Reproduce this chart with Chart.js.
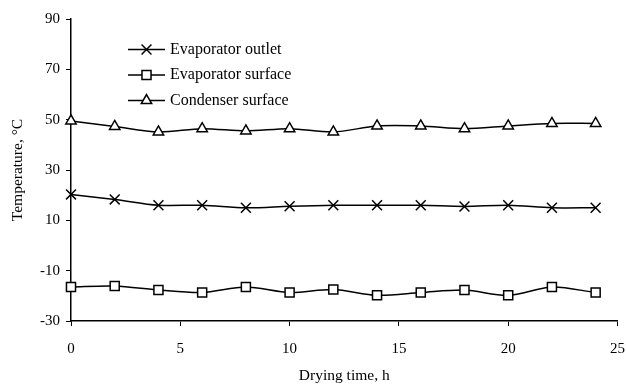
<!DOCTYPE html>
<html lang="en">
<head>
<meta charset="UTF-8">
<title>Drying temperatures</title>
<script src="https://cdn.jsdelivr.net/npm/chart.js"></script>
<style>
  html, body { margin: 0; padding: 0; background: #fff; }
  #wrap { width: 626px; height: 389px; }
</style>
</head>
<body>
<div id="wrap"><canvas id="temps"></canvas></div>
<script>
// readings taken every 2 hours
const hours = [0, 2, 4, 6, 8, 10, 12, 14, 16, 18, 20, 22, 24];
const evapOutlet = [20.3, 18.3, 16, 16, 15, 15.6, 16, 16, 16, 15.5, 16, 15, 15];
const evapSurface = [-16.5, -16.1, -17.7, -18.7, -16.5, -18.7, -17.5, -19.8, -18.7, -17.7, -19.8, -16.5, -18.7];
const condSurface = [49.5, 47.3, 45.1, 46.4, 45.5, 46.4, 45.1, 47.5, 47.5, 46.4, 47.5, 48.5, 48.5];
const xTicks = [0, 5, 10, 15, 20, 25];
const yTicks = [-30, -10, 10, 30, 50, 70, 90];

const serif = '"Liberation Serif", "DejaVu Serif", serif';

function pts(vals) {
    return hours.map((h, i) => ({ x: h, y: vals[i] }));
}

// legend drawn inside the plot, top left
const insideLegend = {
    id: 'insideLegend',
    afterDraw(chart) {
        const ctx = chart.ctx;
        const area = chart.chartArea;
        ctx.save();
        chart.data.datasets.forEach((ds, i) => {
            const y = area.top + 30.5 + i * 25.5;
            const x0 = area.left + 57;
            const x1 = x0 + 37;
            ctx.strokeStyle = '#000';
            ctx.lineWidth = 1.5;
            ctx.beginPath();
            ctx.moveTo(x0, y);
            ctx.lineTo(x1, y);
            ctx.stroke();
            ctx.fillStyle = '#fff';
            Chart.helpers.drawPoint(ctx, {
                pointStyle: ds.pointStyle,
                radius: ds.pointRadius,
                rotation: 0,
                borderWidth: 1.5
            }, (x0 + x1) / 2, y);
            ctx.fillStyle = '#000';
            ctx.font = '16px ' + serif;
            ctx.textBaseline = 'middle';
            ctx.textAlign = 'left';
            ctx.fillText(ds.label, x1 + 5, y);
        });
        ctx.restore();
    }
};

function series(label, vals, style, r) {
    return {
        label: label,
        data: pts(vals),
        borderColor: '#000',
        borderWidth: 1.5,
        backgroundColor: '#fff',
        pointStyle: style,
        pointRadius: r,
        pointBorderColor: '#000',
        pointBackgroundColor: '#fff',
        pointBorderWidth: 1.5,
        tension: 0.3,
        clip: false
    };
}

new Chart(document.getElementById('temps'), {
    type: 'line',
    data: {
        datasets: [
            series('Evaporator outlet', evapOutlet, 'crossRot', 7),
            series('Evaporator surface', evapSurface, 'rect', 6.4),
            series('Condenser surface', condSurface, 'triangle', 6)
        ]
    },
    options: {
        responsive: true,
        maintainAspectRatio: false,
        animation: false,
        layout: { padding: { top: 19, right: 5, left: 0, bottom: 0 } },
        plugins: {
            legend: { display: false },
            tooltip: { enabled: false }
        },
        scales: {
            x: {
                type: 'linear',
                min: 0,
                max: 25,
                afterBuildTicks: (s) => { s.ticks = xTicks.map(v => ({ value: v })); },
                afterFit: (s) => { s.paddingRight = 0; s.height = 68; },
                grid: { display: true, drawOnChartArea: false, color: '#000', tickLength: 5, tickWidth: 1 },
                border: { color: '#000', width: 1.5 },
                ticks: { color: '#000', padding: 14, maxRotation: 0, font: { family: serif, size: 15 } },
                title: {
                    display: true,
                    text: 'Drying time, h',
                    color: '#000',
                    font: { family: serif, size: 15.5 },
                    padding: { top: 0, bottom: 4 }
                }
            },
            y: {
                min: -30,
                max: 90,
                afterBuildTicks: (s) => { s.ticks = yTicks.map(v => ({ value: v })); },
                afterFit: (s) => { s.width = 71; },
                grid: { display: true, drawOnChartArea: false, color: '#000', tickLength: 5, tickWidth: 1 },
                border: { color: '#000', width: 1.5 },
                ticks: { color: '#000', padding: 6, font: { family: serif, size: 15 } },
                title: {
                    display: true,
                    text: 'Temperature, °C',
                    color: '#000',
                    font: { family: serif, size: 15.5 },
                    padding: { top: 9, bottom: 4 }
                }
            }
        }
    },
    plugins: [insideLegend]
});
</script>
</body>
</html>
